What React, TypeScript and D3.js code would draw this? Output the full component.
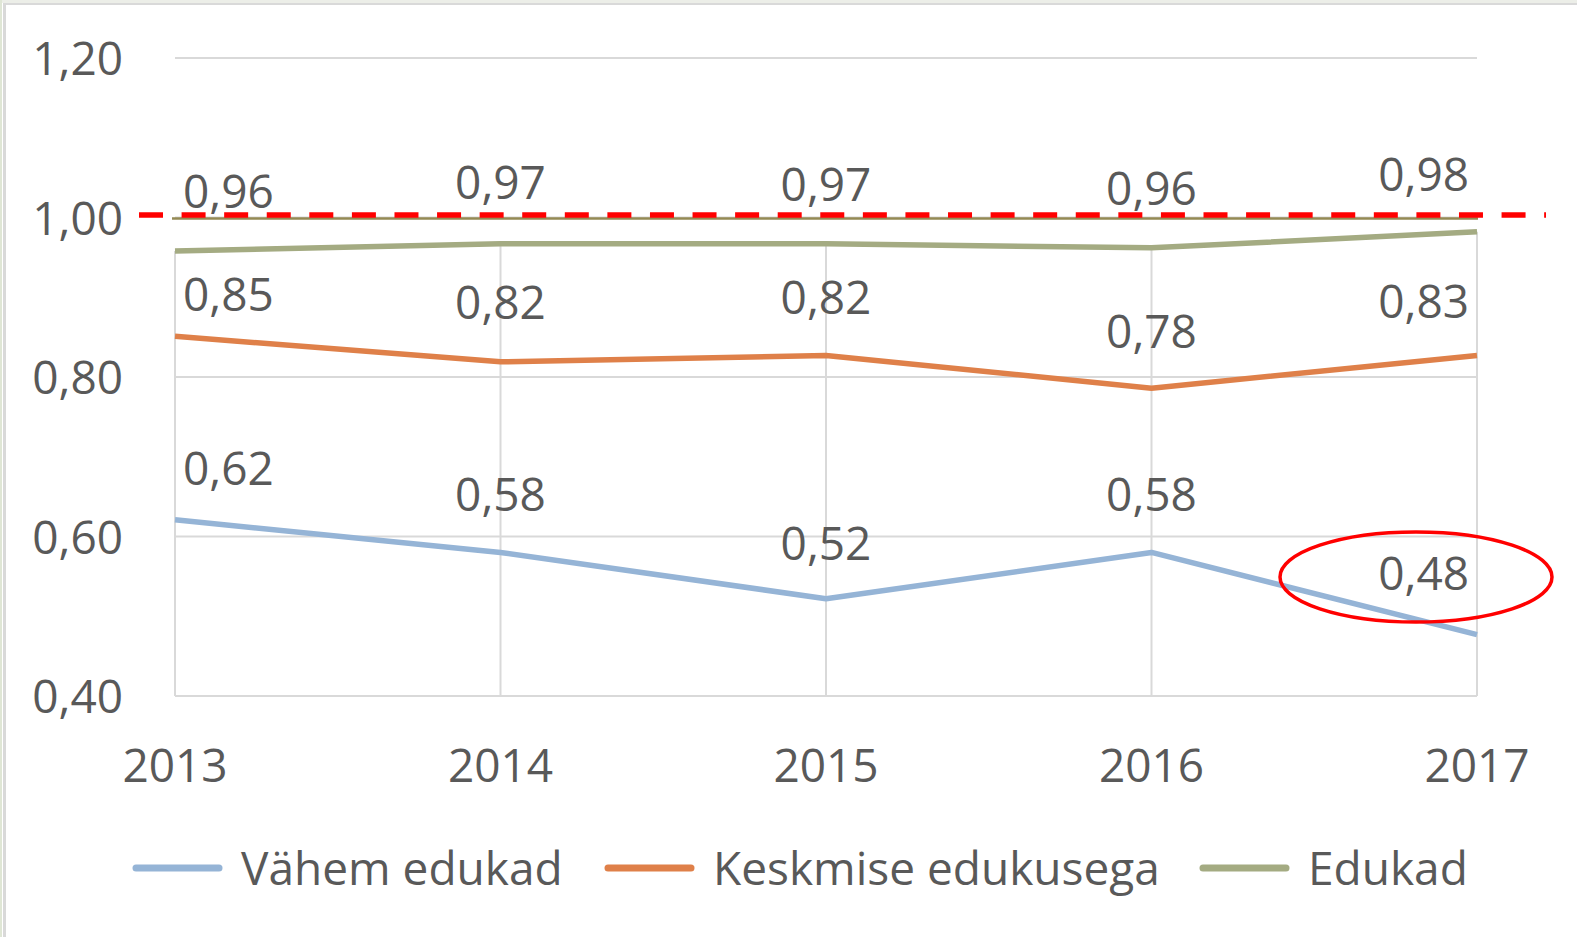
import React from 'react';
import * as d3 from 'd3';

const years = ['2013', '2014', '2015', '2016', '2017'];
const vahemEdukad = [0.621, 0.580, 0.522, 0.580, 0.477];
const keskmised = [0.851, 0.819, 0.827, 0.786, 0.827];
const edukad = [0.958, 0.967, 0.967, 0.962, 0.982];
const vahemLabels = ['0,62', '0,58', '0,52', '0,58', '0,48'];
const keskmisedLabels = ['0,85', '0,82', '0,82', '0,78', '0,83'];
const edukadLabels = ['0,96', '0,97', '0,97', '0,96', '0,98'];
const yTicks = [0.4, 0.6, 0.8, 1.0, 1.2];
const threshold = 1.0;

const W = 1577;
const H = 937;
const FONT = '"Open Sans", sans-serif';
const TEXT = '#595959';

const series = [
  { name: 'Vähem edukad', values: vahemEdukad, labels: vahemLabels, color: '#95B4D6', lift: [35, 41, 39, 41, 45] },
  { name: 'Keskmise edukusega', values: keskmised, labels: keskmisedLabels, color: '#DF8049', lift: [25, 43, 41, 40, 37] },
  { name: 'Edukad', values: edukad, labels: edukadLabels, color: '#A4AB82', lift: [43, 45, 43, 43, 41] },
];

// legend placement (x of swatch start) per series
const legendX = [136, 608, 1203];

export default function App() {
  const x = d3.scalePoint<string>().domain(years).range([175, 1477]);
  const y = d3.scaleLinear().domain([0.4, 1.2]).range([696, 58]);

  const line = d3.line<number>()
    .x((_, i) => x(years[i]) as number)
    .y(d => y(d));

  // drop lines from the highest series down to the axis
  const tops = years.map((_, i) => d3.max(series, s => s.values[i]) as number);

  return (
    <svg width={W} height={H} style={{ display: 'block', position: 'absolute', left: 0, top: 0 }}>
      <rect x={0} y={0} width={W} height={H} fill="#ffffff" />
      <rect x={0} y={0} width={W} height={3} fill="#eceee8" />
      <rect x={0} y={0} width={2} height={H} fill="#dfe6d5" />
      <line x1={3} x2={W} y1={4} y2={4} stroke="#d9d9d9" strokeWidth={2} />
      <line x1={4.5} x2={4.5} y1={3} y2={H} stroke="#d9d9d9" strokeWidth={3} />

      {/* horizontal gridlines */}
      {yTicks.map(t => (
        <line key={t} x1={175} x2={1477} y1={y(t)} y2={y(t)} stroke="#d9d9d9" strokeWidth={2} />
      ))}

      {/* drop lines */}
      {years.map((yr, i) => (
        <line key={yr} x1={x(yr)} x2={x(yr)} y1={y(tops[i])} y2={y(0.4)} stroke="#d9d9d9" strokeWidth={2} />
      ))}

      {/* y tick labels */}
      {yTicks.map(t => (
        <text key={t} x={123} y={y(t) + 17} textAnchor="end" fontFamily={FONT} fontSize={46} fill={TEXT}>
          {d3.format('.2f')(t).replace('.', ',')}
        </text>
      ))}

      {/* x tick labels */}
      {years.map(yr => (
        <text key={yr} x={x(yr)} y={782} textAnchor="middle" fontFamily={FONT} fontSize={46} fill={TEXT}>
          {yr}
        </text>
      ))}

      {/* threshold line */}
      <line x1={172} x2={1478} y1={y(threshold) + 1} y2={y(threshold) + 1} stroke="#948A54" strokeWidth={2.5} />
      <line x1={139} x2={1546} y1={y(threshold) - 2.5} y2={y(threshold) - 2.5} stroke="#FF0000" strokeWidth={5.5} strokeDasharray="24 18.58" />

      {/* series */}
      {series.map(s => (
        <path key={s.name} d={line(s.values) as string} fill="none" stroke={s.color} strokeWidth={5.5} strokeLinejoin="round" />
      ))}

      {/* data labels */}
      {series.map(s => s.values.map((v, i) => {
        const first = i === 0;
        const last = i === years.length - 1;
        const px = (x(years[i]) as number) + (first ? 8 : last ? -8 : 0);
        return (
          <text key={s.name + i} x={px} y={y(v) - s.lift[i]}
            textAnchor={first ? 'start' : last ? 'end' : 'middle'}
            fontFamily={FONT} fontSize={46} fill={TEXT}>
            {s.labels[i]}
          </text>
        );
      }))}

      {/* highlight ellipse */}
      <ellipse cx={1416} cy={577} rx={136} ry={45} fill="none" stroke="#FF0000" strokeWidth={3.5} />

      {/* legend */}
      {series.map((s, i) => (
        <g key={s.name} transform={`translate(${legendX[i]},868)`}>
          <line x1={0} x2={83} y1={0} y2={0} stroke={s.color} strokeWidth={7} strokeLinecap="round" />
          <text x={105} y={17} fontFamily={FONT} fontSize={46} fill={TEXT}>{s.name}</text>
        </g>
      ))}
    </svg>
  );
}
